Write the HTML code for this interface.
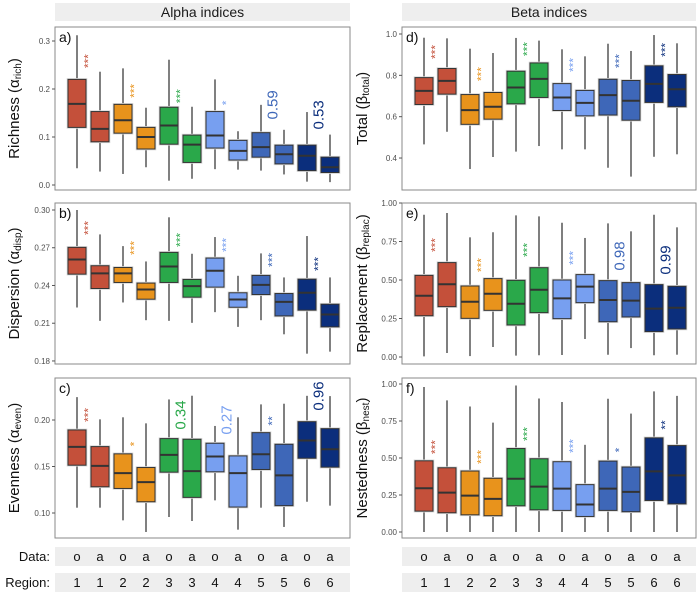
<!DOCTYPE html>
<html><head><meta charset="utf-8"><style>
html,body{margin:0;padding:0;background:#fff;}
svg{display:block;font-family:"Liberation Sans",Arial,sans-serif;}
</style></head><body>
<svg id="chart" width="700" height="593" viewBox="0 0 700 593"></svg>
<script>
// ---- data ----
const regions = ["1","1","2","2","3","3","4","4","5","5","6","6"];
const dataTypes = ["o","a","o","a","o","a","o","a","o","a","o","a"];
const colors = ["#c4503a","#c4503a","#e8931c","#e8931c","#2aa84a","#2aa84a","#779ff0","#779ff0","#3e67b8","#3e67b8","#0b2e7c","#0b2e7c"];
const annColors = ["#c4503a","#e8931c","#2aa84a","#779ff0","#3e67b8","#0b2e7c"];
// each box: [lowWhisker, q1, median, q3, highWhisker]
const richness = [[0.035,0.12,0.169,0.22,0.312],[0.028,0.09,0.117,0.153,0.236],[0.023,0.108,0.135,0.168,0.243],[0.037,0.075,0.1,0.12,0.161],[0.009,0.085,0.124,0.162,0.261],[0.013,0.047,0.084,0.104,0.163],[0.033,0.077,0.103,0.153,0.22],[0.032,0.052,0.071,0.093,0.112],[0.03,0.058,0.079,0.109,0.167],[0.022,0.044,0.064,0.083,0.115],[0.007,0.03,0.061,0.083,0.152],[0.006,0.026,0.037,0.058,0.105]];
const dispersion = [[0.2225,0.249,0.2607,0.2703,0.300],[0.2119,0.2376,0.2496,0.2557,0.2806],[0.2265,0.2424,0.2496,0.2543,0.2713],[0.2124,0.2291,0.2368,0.2419,0.2591],[0.2119,0.2424,0.2551,0.2663,0.2942],[0.2103,0.2307,0.2395,0.2448,0.2652],[0.2188,0.2387,0.2517,0.2618,0.2785],[0.2071,0.2227,0.2289,0.2342,0.2477],[0.2124,0.2328,0.2405,0.248,0.2655],[0.2012,0.2158,0.227,0.2336,0.2464],[0.1858,0.2204,0.2342,0.245,0.2793],[0.1874,0.2071,0.2169,0.2251,0.2464]];
const evenness = [[0.1057,0.1514,0.1711,0.1893,0.2246],[0.1057,0.1282,0.1507,0.1714,0.2007],[0.0921,0.1264,0.1429,0.1636,0.2029],[0.0796,0.1121,0.1332,0.1489,0.1964],[0.0957,0.1439,0.1625,0.18,0.2221],[0.0914,0.1168,0.145,0.1793,0.2261],[0.1136,0.1443,0.1607,0.175,0.1936],[0.0821,0.1064,0.1429,0.1614,0.2029],[0.1057,0.1468,0.1632,0.1864,0.2168],[0.085,0.1079,0.1404,0.1739,0.2175],[0.1121,0.1589,0.1779,0.1982,0.226],[0.1079,0.1493,0.1686,0.1907,0.2257]];
const total = [[0.466,0.659,0.725,0.789,0.982],[0.527,0.709,0.773,0.833,0.979],[0.347,0.563,0.632,0.707,0.929],[0.405,0.588,0.648,0.717,0.908],[0.431,0.662,0.741,0.82,0.981],[0.458,0.693,0.783,0.86,0.968],[0.442,0.63,0.693,0.76,0.926],[0.442,0.604,0.667,0.727,0.892],[0.353,0.608,0.704,0.781,0.953],[0.31,0.583,0.677,0.775,0.918],[0.406,0.669,0.759,0.846,0.995],[0.418,0.648,0.733,0.804,0.955]];
const replacement = [[0.004,0.268,0.398,0.53,0.924],[0.026,0.327,0.472,0.613,0.935],[0.006,0.251,0.359,0.461,0.777],[0.065,0.303,0.411,0.509,0.81],[0.009,0.208,0.346,0.498,0.92],[0.011,0.288,0.437,0.58,0.913],[0.013,0.249,0.381,0.5,0.872],[0.117,0.353,0.457,0.535,0.773],[0.015,0.229,0.37,0.496,0.868],[0.058,0.26,0.366,0.483,0.816],[0.011,0.165,0.314,0.47,0.924],[0.015,0.182,0.32,0.459,0.842]];
const nestedness = [[0,0.141,0.296,0.481,0.98],[0,0.13,0.266,0.434,0.889],[0,0.116,0.246,0.412,0.848],[0,0.11,0.224,0.363,0.739],[0,0.177,0.36,0.564,0.99],[0,0.15,0.307,0.495,0.902],[0,0.146,0.293,0.475,0.878],[0,0.105,0.186,0.32,0.589],[0,0.146,0.293,0.479,0.9],[0,0.137,0.271,0.439,0.8],[0,0.213,0.41,0.636,0.95],[0,0.19,0.383,0.584,0.92]];
const annA = ["***","***","***","*","0.59","0.53"];
const annAy = [0.258,0.196,0.185,0.171,0.167,0.146];
const annB = ["***","***","***","***","***","***"];
const annBy = [0.2857,0.2698,0.2762,0.2722,0.2603,0.2571];
const annC = ["***","*","0.34","0.27","**","0.96"];
const annCy = [0.2054,0.1742,0.2054,0.200,0.199,0.2258];
const annD = ["***","***","***","***","***","***"];
const annDy = [0.913,0.806,0.927,0.85,0.869,0.923];
const annE = ["***","***","***","***","0.98","0.99"];
const annEy = [0.727,0.597,0.695,0.643,0.656,0.63];
const annF = ["***","***","***","***","*","**"];
const annFy = [0.574,0.507,0.662,0.581,0.554,0.723];
const ticksA = [0,0.1,0.2,0.3], tickLabA = ["0.0","0.1","0.2","0.3"];
const ticksB = [0.18,0.21,0.24,0.27,0.30], tickLabB = ["0.18","0.21","0.24","0.27","0.30"];
const ticksC = [0.10,0.15,0.20], tickLabC = ["0.10","0.15","0.20"];
const ticksD = [0.4,0.6,0.8,1.0], tickLabD = ["0.4","0.6","0.8","1.0"];
const ticksE = [0,0.25,0.5,0.75,1], tickLabE = ["0.00","0.25","0.50","0.75","1.00"];
const ticksF = [0,0.25,0.5,0.75,1], tickLabF = ["0.00","0.25","0.50","0.75","1.00"];

// ---- drawing ----
const svg = document.getElementById('chart');
const NS = "http://www.w3.org/2000/svg";
function mk(tag, attrs, parent){const e=document.createElementNS(NS,tag);for(const k in attrs)e.setAttribute(k,attrs[k]);(parent||svg).appendChild(e);return e;}

const panels = [
 {id:"a",x0:55,x1:350,top:27,bot:190,ys:v=>185-v*480,data:richness,ann:annA,anny:annAy,ticks:ticksA,tl:tickLabA,title:"Richness (α",sub:"rich",name:"richness"},
 {id:"b",x0:55,x1:350,top:203,bot:364,ys:v=>210+(0.30-v)*1258,data:dispersion,ann:annB,anny:annBy,ticks:ticksB,tl:tickLabB,title:"Dispersion (α",sub:"disp",name:"dispersion"},
 {id:"c",x0:55,x1:350,top:378,bot:538,ys:v=>420+(0.20-v)*930,data:evenness,ann:annC,anny:annCy,ticks:ticksC,tl:tickLabC,title:"Evenness (α",sub:"even",name:"evenness"},
 {id:"d",x0:402,x1:696,top:27,bot:190,ys:v=>34+(1-v)*206.7,data:total,ann:annD,anny:annDy,ticks:ticksD,tl:tickLabD,title:"Total (β",sub:"total",name:"total"},
 {id:"e",x0:402,x1:696,top:203,bot:364,ys:v=>203+(1-v)*154,data:replacement,ann:annE,anny:annEy,ticks:ticksE,tl:tickLabE,title:"Replacement (β",sub:"replac",name:"replacement"},
 {id:"f",x0:402,x1:696,top:378,bot:538,ys:v=>384+(1-v)*148,data:nestedness,ann:annF,anny:annFy,ticks:ticksF,tl:tickLabF,title:"Nestedness (β",sub:"nest",name:"nestedness"}
];

// header strips
[["Alpha indices",55,350],["Beta indices",402,696]].forEach(h=>{
  const g=mk('g',{});
  
  
  mk('rect',{x:h[1],y:3,width:h[2]-h[1],height:18,fill:"#eeeeee"},g);
  mk('text',{x:(h[1]+h[2])/2,y:17,'text-anchor':'middle','font-size':14,fill:"#1a1a1a"},g).textContent=h[0];
});

panels.forEach(p=>{
  const g=mk('g',{});
  
  
  const xs=i=>(p.x0<100?77:424)+23*i;
  mk('rect',{x:p.x0,y:p.top,width:p.x1-p.x0,height:p.bot-p.top,fill:"#fff",stroke:"#8a8a8a",'stroke-width':1},g);
  // ticks
  p.ticks.forEach((t,k)=>{
    const y=p.ys(t);
    mk('line',{x1:p.x0-3,x2:p.x0,y1:y,y2:y,stroke:"#555",'stroke-width':1},g);
    const tt=mk('text',{x:p.x0-5,y:y+3,'text-anchor':'end','font-size':8,fill:"#4d4d4d"},g);
    tt.textContent=p.tl[k];
    
    
  });
  // axis title
  const cy=(p.top+p.bot)/2, tx=p.x0<100?19:367;
  const at=mk('text',{x:tx,y:cy,'text-anchor':'middle','font-size':15,fill:"#111",transform:`rotate(-90 ${tx} ${cy})`},g);
  
  
  const t1=mk('tspan',{},at);t1.textContent=p.title;
  const t2=mk('tspan',{'font-size':10,dy:2},at);t2.textContent=p.sub;
  const t3=mk('tspan',{dy:-2},at);t3.textContent=")";
  // panel label
  const pl=mk('text',{x:p.x0+4,y:p.top+15,'font-size':14,fill:"#111"},g);
  pl.textContent=p.id+")";
  
  
  // boxes
  p.data.forEach((d,i)=>{
    const x=xs(i), w=18;
    const bg=mk('g',{},g);
    
    
    mk('line',{x1:x,x2:x,y1:p.ys(d[0]),y2:p.ys(d[4]),stroke:"#555",'stroke-width':1.5},bg);
    mk('rect',{x:x-w/2,y:p.ys(d[3]),width:w,height:p.ys(d[1])-p.ys(d[3]),fill:colors[i],stroke:"#d8d8d8",'stroke-width':2.6},bg);
    mk('rect',{x:x-w/2,y:p.ys(d[3]),width:w,height:p.ys(d[1])-p.ys(d[3]),fill:colors[i],stroke:"#333",'stroke-width':1},bg);
    mk('line',{x1:x-w/2,x2:x+w/2,y1:p.ys(d[2]),y2:p.ys(d[2]),stroke:"#333",'stroke-width':2},bg);
  });
  // annotations
  p.ann.forEach((a,k)=>{
    const x=(xs(2*k)+xs(2*k+1))/2, y=p.ys(p.anny[k]);
    const isNum=a.indexOf('*')<0;
    const fs=isNum?15:12;
    const t=mk('text',{x:x+(isNum?5:4),y:y,'text-anchor':'middle','font-size':fs,fill:annColors[k],transform:`rotate(-90 ${x+(isNum?5:4)} ${y})`},g);
    t.textContent=a;
    
    
  });
});

// bottom strips
[["Data:",547,dataTypes,"data-row"],["Region:",573,regions,"region-row"]].forEach(r=>{
  const g=mk('g',{});
  
  
  mk('text',{x:50,y:r[1]+14,'text-anchor':'end','font-size':13,fill:"#111"},g).textContent=r[0];
  [[55,350,77],[402,696,424]].forEach(s=>{
    mk('rect',{x:s[0],y:r[1],width:s[1]-s[0],height:19,fill:"#eeeeee"},g);
    r[2].forEach((v,i)=>{
      const t=mk('text',{x:s[2]+23*i,y:r[1]+14,'text-anchor':'middle','font-size':13,fill:"#111"},g);
      t.textContent=v;
    });
  });
});
</script>
</body></html>
